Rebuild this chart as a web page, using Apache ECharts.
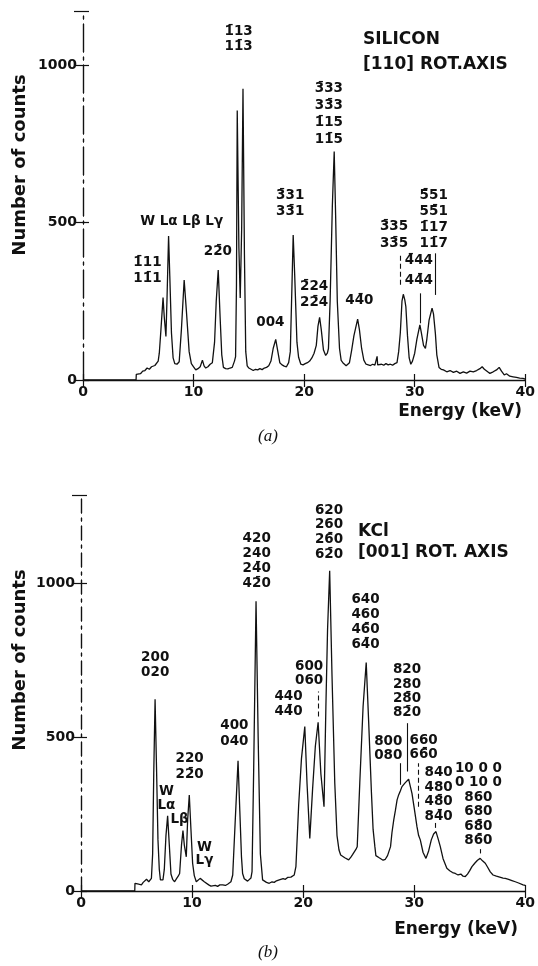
<!DOCTYPE html>
<html>
<head>
<meta charset="utf-8">
<title>Energy spectra - Si [110] and KCl [001]</title>
<script src="https://cdn.jsdelivr.net/npm/echarts@6/dist/echarts.min.js"></script>
<style>
  html, body { margin: 0; padding: 0; background: #fff; }
  #chart { width: 538px; height: 966px; }
</style>
</head>
<body>
<div id="chart"></div>
<script>
// combining bar, used for negative Miller indices
const B = '\u0304'

const energyTicks = [0, 10, 20, 30, 40]
const countTicks = [0, 500, 1000]

// (a) silicon, [energy keV, counts]
const siliconSpectrum = [
  [0, 0], [4.8, 0], [4.82, 18], [5.0, 22], [5.2, 20], [5.4, 28], [5.6, 30], [5.8, 38], [6.0, 34],
  [6.2, 42], [6.35, 38], [6.5, 46], [6.65, 52], [6.8, 60], [6.9, 85], [7.05, 160], [7.24, 262],
  [7.35, 200], [7.5, 138], [7.6, 260], [7.74, 457], [7.85, 330], [8.0, 150], [8.15, 70], [8.3, 52],
  [8.5, 50], [8.7, 58], [8.9, 160], [9.15, 317], [9.35, 220], [9.6, 90], [9.8, 52], [10.0, 42],
  [10.2, 32], [10.4, 36], [10.6, 42], [10.8, 63], [10.95, 45], [11.1, 38], [11.3, 42], [11.5, 50],
  [11.7, 55], [11.9, 120], [12.05, 250], [12.23, 349], [12.4, 200], [12.55, 80], [12.7, 40],
  [12.9, 36], [13.1, 35], [13.3, 38], [13.5, 40], [13.7, 60], [13.8, 74], [13.88, 300], [13.95, 855],
  [14.1, 420], [14.22, 260], [14.35, 480], [14.47, 924], [14.6, 400], [14.72, 90], [14.85, 45],
  [15.0, 38], [15.2, 34], [15.4, 30], [15.6, 34], [15.8, 32], [16.0, 36], [16.2, 33], [16.4, 38],
  [16.6, 40], [16.8, 45], [17.0, 60], [17.2, 100], [17.43, 129], [17.6, 95], [17.8, 55], [18.0, 48],
  [18.2, 44], [18.4, 42], [18.6, 55], [18.75, 90], [18.9, 300], [19.01, 460], [19.15, 330],
  [19.35, 120], [19.5, 72], [19.7, 50], [19.9, 48], [20.1, 52], [20.3, 55], [20.5, 60], [20.7, 70],
  [20.9, 85], [21.1, 110], [21.25, 170], [21.4, 199], [21.55, 160], [21.75, 95], [21.95, 78],
  [22.1, 85], [22.2, 100], [22.35, 250], [22.55, 550], [22.72, 725], [22.85, 520], [23.0, 250],
  [23.2, 100], [23.35, 62], [23.5, 55], [23.65, 52], [23.8, 45], [23.95, 40], [24.1, 55], [24.3, 95],
  [24.5, 140], [24.84, 193], [25.0, 160], [25.2, 100], [25.4, 63], [25.6, 50], [25.8, 48], [26.0, 46],
  [26.2, 50], [26.4, 47], [26.55, 52], [26.6, 75], [26.65, 48], [26.8, 46], [27.0, 50], [27.2, 47],
  [27.4, 52], [27.6, 48], [27.8, 50], [28.0, 47], [28.2, 52], [28.4, 55], [28.55, 90], [28.7, 150],
  [28.85, 250], [28.97, 272], [29.1, 255], [29.2, 233], [29.35, 140], [29.5, 70], [29.65, 50],
  [29.8, 60], [30.0, 85], [30.2, 130], [30.47, 175], [30.6, 150], [30.8, 110], [30.97, 100],
  [31.1, 130], [31.3, 190], [31.57, 228], [31.7, 210], [31.87, 148], [32.0, 80], [32.2, 40],
  [32.4, 34], [32.6, 32], [32.9, 26], [33.2, 30], [33.5, 24], [33.8, 28], [34.1, 21], [34.4, 26],
  [34.7, 22], [35.0, 28], [35.3, 26], [35.6, 30], [35.9, 36], [36.1, 42], [36.3, 34], [36.6, 26],
  [36.8, 21], [37.1, 26], [37.4, 32], [37.64, 40], [37.85, 28], [38.1, 16], [38.3, 20], [38.6, 12],
  [38.9, 10], [39.2, 8], [39.5, 6], [39.8, 5], [40, 3]
]

// (b) KCl, [energy keV, counts]
const kclSpectrum = [
  [0, 0], [4.84, 0], [4.86, 25], [5.0, 25], [5.2, 22], [5.44, 20], [5.6, 28], [5.75, 34], [5.9, 38],
  [6.1, 30], [6.2, 36], [6.34, 41], [6.45, 120], [6.55, 380], [6.67, 623], [6.8, 400], [6.93, 166],
  [7.05, 70], [7.15, 36], [7.3, 38], [7.38, 36], [7.5, 70], [7.65, 180], [7.8, 244], [7.95, 150],
  [8.1, 55], [8.25, 38], [8.43, 30], [8.6, 40], [8.75, 48], [8.88, 57], [9.05, 150], [9.18, 196],
  [9.3, 150], [9.48, 111], [9.6, 230], [9.75, 312], [9.9, 200], [10.05, 90], [10.2, 50], [10.38, 30],
  [10.55, 36], [10.73, 41], [10.9, 35], [11.1, 30], [11.27, 25], [11.5, 20], [11.7, 16], [11.87, 14],
  [12.1, 18], [12.3, 15], [12.5, 20], [12.76, 20], [13.0, 18], [13.2, 22], [13.36, 20], [13.5, 30],
  [13.66, 52], [13.85, 200], [14.14, 423], [14.3, 260], [14.45, 110], [14.55, 57], [14.7, 40],
  [14.86, 36], [15.0, 32], [15.16, 30], [15.3, 42], [15.4, 63], [15.55, 400], [15.76, 941],
  [15.95, 500], [16.15, 120], [16.35, 36], [16.5, 30], [16.7, 28], [16.95, 25], [17.2, 30],
  [17.4, 28], [17.6, 33], [17.85, 36], [18.0, 34], [18.2, 40], [18.4, 38], [18.6, 44], [18.74, 47],
  [18.9, 45], [19.05, 50], [19.2, 52], [19.35, 79], [19.6, 280], [19.85, 430], [20.15, 534],
  [20.35, 350], [20.6, 171], [20.85, 330], [21.1, 470], [21.35, 548], [21.6, 380], [21.88, 274],
  [22.05, 600], [22.2, 850], [22.39, 1040], [22.6, 700], [22.85, 350], [23.05, 180], [23.23, 133],
  [23.38, 117], [23.55, 112], [23.75, 108], [23.9, 104], [24.1, 101], [24.3, 110], [24.45, 118],
  [24.57, 123], [24.75, 135], [24.87, 144], [25.1, 350], [25.4, 600], [25.68, 742], [25.9, 550],
  [26.15, 320], [26.3, 200], [26.46, 144], [26.55, 115], [26.67, 111], [26.85, 108], [27.0, 104],
  [27.2, 100], [27.4, 103], [27.6, 115], [27.87, 144], [28.0, 190], [28.16, 231], [28.3, 260],
  [28.46, 296], [28.6, 312], [28.75, 325], [28.9, 339], [29.05, 345], [29.2, 352], [29.35, 358],
  [29.5, 363], [29.65, 340], [29.8, 317], [30.0, 270], [30.25, 209], [30.4, 180], [30.55, 166],
  [30.8, 125], [31.06, 106], [31.3, 130], [31.54, 166], [31.75, 185], [31.96, 193], [32.15, 170],
  [32.35, 144], [32.6, 105], [32.94, 74], [33.2, 66], [33.45, 60], [33.7, 57], [33.95, 52],
  [34.2, 55], [34.4, 48], [34.6, 47], [34.8, 55], [35.0, 66], [35.2, 79], [35.45, 90], [35.7, 100],
  [35.94, 106], [36.15, 98], [36.4, 90], [36.6, 78], [36.85, 62], [37.1, 52], [37.4, 48], [37.7, 45],
  [38.0, 42], [38.2, 41], [38.5, 38], [38.8, 34], [39.1, 30], [39.4, 26], [39.8, 20], [40, 18]
]

// peak labels: [energy, counts at text centre, text, line height]
const siliconPeakLabels = [
  [5.83, 349, `1${B}11\n11${B}1`, 16],
  [8.92, 503, 'W L\u03b1 L\u03b2 L\u03b3', 16],
  [12.2, 407, `22${B}0`, 16],
  [14.08, 1082, `1${B}13\n11${B}3`, 15],
  [18.74, 560, `3${B}31\n33${B}1`, 16.6],
  [16.95, 182, '004', 16],
  [22.24, 844, `3${B}33\n33${B}3\n1${B}15\n11${B}5`, 16.7],
  [20.9, 270, `2${B}24\n22${B}4`, 16],
  [25.0, 251, `44${B}0`, 16],
  [28.13, 460, `3${B}35\n33${B}5`, 16.6],
  [30.38, 346, `4${B}44\n44${B}4`, 20],
  [31.72, 510, `5${B}51\n55${B}1\n1${B}17\n11${B}7`, 16]
]

const kclPeakLabels = [
  [6.68, 733, '200\n020', 14.7],
  [7.69, 301, 'W\nL\u03b1', 13.4],
  [8.88, 231, 'L\u03b2', 14],
  [9.78, 404, `220\n22${B}0`, 16.7],
  [11.12, 120, 'W\nL\u03b3', 13.4],
  [13.81, 511, '400\n040', 15.7],
  [15.82, 1072, `420\n240\n24${B}0\n42${B}0`, 15],
  [22.33, 1165, `620\n260\n26${B}0\n62${B}0`, 14.8],
  [25.62, 874, `640\n460\n46${B}0\n64${B}0`, 15.2],
  [20.54, 706, '600\n060', 13.4],
  [18.68, 607, `440\n44${B}0`, 15],
  [29.35, 649, `820\n280\n28${B}0\n82${B}0`, 14.2],
  [27.67, 462, '800\n080', 13.5],
  [30.85, 465, `660\n66${B}0`, 14],
  [32.2, 313, `840\n480\n48${B}0\n84${B}0`, 14.7],
  [35.78, 281, `10 0 0\n0 10 0\n860\n680\n68${B}0\n86${B}0`, 14.5]
]

// leader lines: [energy, counts from, counts to, dashed]
const siliconLeaders = [
  [28.73, 302, 403, true],
  [30.5, 180, 275, false],
  [31.87, 270, 402, false]
]

const kclLeaders = [
  [21.35, 567, 648, true],
  [29.35, 388, 545, false],
  [28.7, 345, 415, false],
  [30.4, 274, 415, true],
  [31.9, 205, 221, false],
  [35.94, 122, 136, false]
]

const INK = '#111111'
const FONT = '"DejaVu Sans", sans-serif'

const chart = echarts.init(document.getElementById('chart'), null, { renderer: 'canvas' })

const panels = [
  { grid: { left: 83, right: 9, top: 11, height: 369 }, ymax: 1171, frame: [28, 5, 3, 5] },
  { grid: { left: 81, right: 11, top: 495, height: 396 }, ymax: 1286, frame: [14, 5, 3, 5] }
]

const xAxes = []
const yAxes = []
panels.forEach((p, gi) => {
  const base = {
    gridIndex: gi, type: 'value', min: energyTicks[0], max: energyTicks[energyTicks.length - 1],
    interval: energyTicks[1] - energyTicks[0], splitLine: { show: false }
  }
  xAxes.push({
    ...base, position: 'bottom',
    axisLine: { lineStyle: { color: INK, width: 1.4 } },
    axisTick: { inside: true, length: 6, lineStyle: { color: INK, width: 1.2 } },
    axisLabel: {
      color: INK, fontFamily: FONT, fontWeight: 'bold', fontSize: 14, margin: 5,
      formatter: v => energyTicks.includes(v) ? String(v) : ''
    }
  })
  xAxes.push({
    ...base, position: 'top',
    axisLine: { lineStyle: { color: INK, width: 1.2, type: p.frame } },
    axisTick: { inside: true, length: 7, lineStyle: { color: INK, width: 1.2 } },
    axisLabel: { show: false }
  })
  const ybase = {
    gridIndex: gi, type: 'value', min: 0, max: p.ymax,
    interval: countTicks[1] - countTicks[0], splitLine: { show: false }
  }
  yAxes.push({
    ...ybase, position: 'left',
    axisLine: { show: true, lineStyle: { color: INK, width: 1.2, type: p.frame } },
    axisTick: { show: true, inside: true, length: 6, lineStyle: { color: INK, width: 1.2 } },
    axisLabel: {
      color: INK, fontFamily: FONT, fontWeight: 'bold', fontSize: 14, margin: 6,
      formatter: v => countTicks.includes(v) ? String(v) : ''
    }
  })
  yAxes.push({
    ...ybase, position: 'right',
    axisLine: { show: true, lineStyle: { color: INK, width: 1.2, type: p.frame } },
    axisTick: { show: true, inside: true, length: 9, lineStyle: { color: INK, width: 1.2 } },
    axisLabel: { show: false }
  })
})

function spectrumSeries(gi, data, leaders) {
  return {
    type: 'line', xAxisIndex: gi * 2, yAxisIndex: gi * 2, data,
    showSymbol: false, silent: true,
    lineStyle: { color: INK, width: 1.3 },
    markLine: {
      silent: true, symbol: ['none', 'none'], label: { show: false },
      lineStyle: { color: INK, width: 1.1, type: 'solid' },
      data: leaders.map(l => [
        { coord: [l[0], l[1]], lineStyle: l[3] ? { type: [5, 3] } : {} },
        { coord: [l[0], l[2]] }
      ])
    }
  }
}

// text is placed in data coordinates, so it moves with the axes
function labelSeries(gi, items) {
  return {
    type: 'scatter', xAxisIndex: gi * 2, yAxisIndex: gi * 2, silent: true,
    symbolSize: 1, itemStyle: { color: 'rgba(0,0,0,0)', opacity: 1 },
    label: {
      show: true, position: 'inside', color: INK, fontFamily: FONT, opacity: 1,
      fontSize: 13.5, fontWeight: 'bold', align: 'center', verticalAlign: 'middle'
    },
    data: items.map(d => ({ value: [d[0], d[1]], label: { formatter: d[2], lineHeight: d[3] } })),
    z: 5
  }
}

function text(x, y, str, font, align, rotation) {
  return {
    type: 'text', x, y, rotation: rotation || 0, silent: true,
    style: { text: str, font, fill: INK, align: align || 'left', verticalAlign: 'middle' }
  }
}

const option = {
  animation: false,
  backgroundColor: '#fff',
  grid: panels.map(p => p.grid),
  xAxis: xAxes,
  yAxis: yAxes,
  series: [
    spectrumSeries(0, siliconSpectrum, siliconLeaders),
    labelSeries(0, siliconPeakLabels),
    spectrumSeries(1, kclSpectrum, kclLeaders),
    labelSeries(1, kclPeakLabels)
  ],
  graphic: [
    text(363, 40, 'SILICON', `bold 17px ${FONT}`),
    text(363, 65, '[110] ROT.AXIS', `bold 17px ${FONT}`),
    text(358, 532, 'KCl', `bold 17px ${FONT}`),
    text(358, 553, '[001] ROT. AXIS', `bold 17px ${FONT}`),
    text(20, 165, 'Number of counts', `bold 18px ${FONT}`, 'center', Math.PI / 2),
    text(20, 660, 'Number of counts', `bold 18px ${FONT}`, 'center', Math.PI / 2),
    text(522, 412, 'Energy (keV)', `bold 17px ${FONT}`, 'right'),
    text(518, 930, 'Energy (keV)', `bold 17px ${FONT}`, 'right'),
    text(268, 437, '(a)', 'italic 17px "Liberation Serif", serif', 'center'),
    text(268, 953, '(b)', 'italic 17px "Liberation Serif", serif', 'center')
  ]
}

chart.setOption(option)
</script>
</body>
</html>
